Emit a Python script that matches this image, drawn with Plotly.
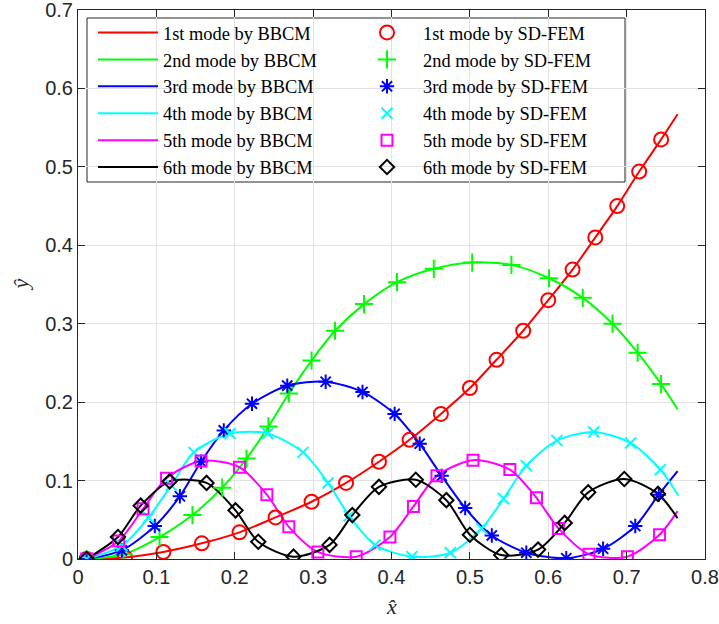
import plotly.graph_objects as go

# ---------------- data ----------------
# SD-FEM markers
fem_x1 = [0.011, 0.060, 0.109, 0.158, 0.206, 0.252, 0.298, 0.342, 0.384, 0.423, 0.463, 0.500, 0.534, 0.568, 0.600, 0.631, 0.660, 0.688, 0.716, 0.744]
fem_y1 = [0.000, 0.002, 0.009, 0.020, 0.034, 0.053, 0.073, 0.097, 0.124, 0.152, 0.185, 0.218, 0.254, 0.291, 0.330, 0.369, 0.410, 0.450, 0.494, 0.535]

fem_x2 = [0.011, 0.058, 0.104, 0.146, 0.184, 0.215, 0.243, 0.269, 0.298, 0.328, 0.365, 0.407, 0.454, 0.503, 0.553, 0.601, 0.644, 0.682, 0.714, 0.744]
fem_y2 = [0.000, 0.006, 0.028, 0.056, 0.091, 0.128, 0.169, 0.211, 0.253, 0.291, 0.325, 0.353, 0.370, 0.378, 0.375, 0.358, 0.333, 0.300, 0.263, 0.223]

fem_x3 = [0.011, 0.056, 0.098, 0.130, 0.157, 0.186, 0.222, 0.267, 0.316, 0.363, 0.404, 0.436, 0.464, 0.494, 0.528, 0.572, 0.623, 0.670, 0.711, 0.741]
fem_y3 = [0.000, 0.011, 0.042, 0.080, 0.124, 0.164, 0.198, 0.221, 0.226, 0.213, 0.185, 0.147, 0.106, 0.065, 0.030, 0.008, 0.001, 0.013, 0.042, 0.082]

fem_x4 = [0.011, 0.056, 0.090, 0.119, 0.148, 0.194, 0.242, 0.287, 0.319, 0.346, 0.379, 0.426, 0.475, 0.515, 0.543, 0.572, 0.611, 0.658, 0.705, 0.743]
fem_y4 = [0.000, 0.017, 0.053, 0.094, 0.136, 0.160, 0.160, 0.136, 0.097, 0.055, 0.018, 0.003, 0.008, 0.039, 0.077, 0.119, 0.151, 0.162, 0.148, 0.114]

fem_x5 = [0.011, 0.052, 0.083, 0.113, 0.157, 0.206, 0.241, 0.269, 0.306, 0.355, 0.398, 0.428, 0.458, 0.504, 0.551, 0.585, 0.613, 0.652, 0.701, 0.742]
fem_y5 = [0.000, 0.023, 0.064, 0.103, 0.125, 0.117, 0.082, 0.041, 0.009, 0.003, 0.028, 0.067, 0.106, 0.126, 0.114, 0.078, 0.039, 0.006, 0.003, 0.031]

fem_x6 = [0.011, 0.051, 0.080, 0.117, 0.164, 0.201, 0.230, 0.275, 0.321, 0.350, 0.384, 0.431, 0.470, 0.500, 0.540, 0.587, 0.621, 0.651, 0.697, 0.740]
fem_y6 = [0.000, 0.028, 0.068, 0.099, 0.097, 0.062, 0.022, 0.003, 0.018, 0.056, 0.092, 0.101, 0.075, 0.031, 0.005, 0.012, 0.046, 0.085, 0.102, 0.083]

# BBCM curves (ending at the right end of the curve)
bbcm_x1 = fem_x1 + [0.765]
bbcm_y1 = fem_y1 + [0.567]
bbcm_x2 = fem_x2 + [0.765]
bbcm_y2 = fem_y2 + [0.191]
bbcm_x3 = fem_x3 + [0.765]
bbcm_y3 = fem_y3 + [0.112]
bbcm_x4 = fem_x4 + [0.766]
bbcm_y4 = fem_y4 + [0.081]
bbcm_x5 = fem_x5 + [0.765]
bbcm_y5 = fem_y5 + [0.061]
bbcm_x6 = fem_x6 + [0.765]
bbcm_y6 = fem_y6 + [0.052]

bbcm_names = ["1st mode by BBCM", "2nd mode by BBCM", "3rd mode by BBCM",
              "4th mode by BBCM", "5th mode by BBCM", "6th mode by BBCM"]
fem_names = ["1st mode by SD-FEM", "2nd mode by SD-FEM", "3rd mode by SD-FEM",
             "4th mode by SD-FEM", "5th mode by SD-FEM", "6th mode by SD-FEM"]
colors = ["#ff0000", "#00ff00", "#0000ff", "#00ffff", "#ff00ff", "#000000"]
symbols = ["circle-open", "cross-thin-open", "asterisk-open", "x-thin-open", "square-open", "diamond-open"]
sizes = [14, 13, 12, 11, 11, 11]

x_ticks = [0, 0.1, 0.2, 0.3, 0.4, 0.5, 0.6, 0.7, 0.8]
x_tick_labels = ["0", "0.1", "0.2", "0.3", "0.4", "0.5", "0.6", "0.7", "0.8"]
y_ticks = [0, 0.1, 0.2, 0.3, 0.4, 0.5, 0.6, 0.7]
y_tick_labels = ["0", "0.1", "0.2", "0.3", "0.4", "0.5", "0.6", "0.7"]

bbcm_x = [bbcm_x1, bbcm_x2, bbcm_x3, bbcm_x4, bbcm_x5, bbcm_x6]
bbcm_y = [bbcm_y1, bbcm_y2, bbcm_y3, bbcm_y4, bbcm_y5, bbcm_y6]
fem_x = [fem_x1, fem_x2, fem_x3, fem_x4, fem_x5, fem_x6]
fem_y = [fem_y1, fem_y2, fem_y3, fem_y4, fem_y5, fem_y6]

fig = go.Figure()
for i in range(6):
    fig.add_trace(go.Scatter(
        x=bbcm_x[i], y=bbcm_y[i], mode="lines", name=bbcm_names[i],
        line=dict(color=colors[i], width=2, shape="spline", smoothing=0.8),
        legend="legend"))
for i in range(6):
    fig.add_trace(go.Scatter(
        x=fem_x[i], y=fem_y[i], mode="markers", name=fem_names[i],
        marker=dict(symbol=symbols[i], size=sizes[i], color=colors[i],
                    line=dict(color=colors[i], width=2)),
        legend="legend2"))

W, H = 719, 624
L, R, T, B = 78, 14, 10, 65
pw, ph = W - L - R, H - T - B


def px2x(px):
    return (px - L) / pw


def py2y(py):
    return (H - B - py) / ph


axis_common = dict(
    automargin=False,
    ticklabeloverflow="allow",
    showline=True, linecolor="#262626", linewidth=1, mirror="ticks",
    ticks="inside", ticklen=7, tickcolor="#262626", tickwidth=1,
    showgrid=True, gridcolor="#e3e3e3", gridwidth=1,
    zeroline=False,
    tickfont=dict(family="Liberation Sans, Arial, sans-serif", size=20, color="#262626"),
)

legend_font = dict(family="Liberation Serif, Times New Roman, serif", size=18.4, color="black")

fig.update_layout(
    width=W, height=H,
    margin=dict(l=L, r=R, t=T, b=B, autoexpand=False),
    paper_bgcolor="white", plot_bgcolor="white",
    xaxis=dict(range=[0, 0.8], tickvals=x_ticks, ticktext=x_tick_labels, **axis_common),
    yaxis=dict(range=[0, 0.7], tickvals=y_ticks, ticktext=y_tick_labels, **axis_common),
    legend=dict(x=px2x(93), y=py2y(14), xanchor="left", yanchor="top",
                bgcolor="rgba(0,0,0,0)", borderwidth=0, tracegroupgap=0, itemwidth=60,
                font=legend_font),
    legend2=dict(x=px2x(351), y=py2y(14), xanchor="left", yanchor="top",
                 bgcolor="rgba(0,0,0,0)", borderwidth=0, tracegroupgap=0, itemwidth=62,
                 font=legend_font),
    shapes=[dict(type="rect", xref="paper", yref="paper",
                 x0=px2x(87), x1=px2x(625), y0=py2y(182), y1=py2y(18),
                 line=dict(color="#262626", width=1), fillcolor="white", layer="between")],
    annotations=[
        dict(text="<i>x\u0302</i>", xref="paper", yref="paper", x=0.5, y=py2y(606),
             xanchor="center", yanchor="middle", showarrow=False,
             font=dict(family="Liberation Serif, Times New Roman, serif", size=22, color="#262626")),
        dict(text="<i>y\u0302</i>", xref="paper", yref="paper", x=px2x(20), y=0.5,
             xanchor="center", yanchor="middle", showarrow=False, textangle=-90,
             font=dict(family="Liberation Serif, Times New Roman, serif", size=22, color="#262626")),
    ],
)

fig.write_html("out.html", config={"displayModeBar": False},
               post_script="document.body.style.margin='0px';document.body.style.padding='0px';")
